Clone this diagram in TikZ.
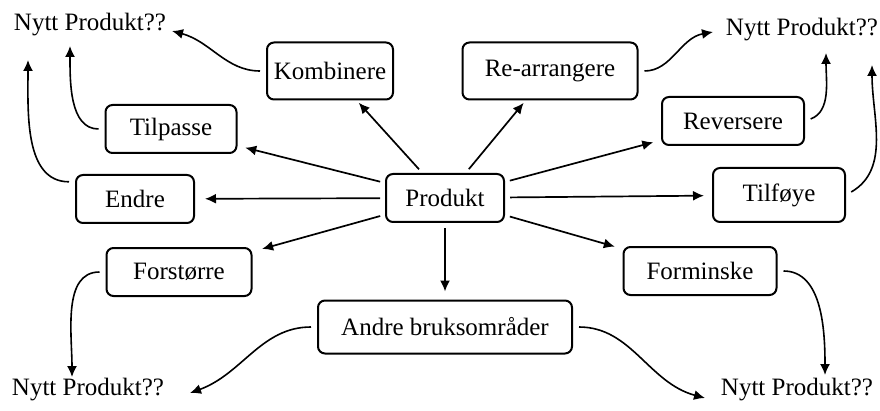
\documentclass[tikz,border=0pt]{standalone}
\usepackage{fontspec}
\setmainfont{Liberation Serif}
\usetikzlibrary{arrows.meta}
\tikzset{
  box/.style={draw, rounded corners=7pt, line width=2pt, minimum height=48pt, inner sep=0pt},
  lab/.style={font=\fontsize{25}{29}\selectfont, inner sep=0pt},
  arr/.style={line width=1.7pt, -{Latex[length=11pt,width=10pt]}, shorten <=5pt},
  curvearr/.style={line width=1.6pt, -{Latex[length=11pt,width=10pt]}, shorten <=6pt},
}

\begin{document}
\begin{tikzpicture}[x=1pt,y=1pt]
  \useasboundingbox (0,0) rectangle (880,410);

  % centre node
  \node[box, lab, minimum width=118pt] (prod) at (445,212) {Produkt};

  % the nine ways
  \node[box, lab, minimum width=126pt, minimum height=57pt] (komb)  at (330,339) {Kombinere};
  \node[box, lab, minimum width=175pt, minimum height=57pt] (rearr) at (550,339) {Re-arrangere};
  \node[box, lab, minimum width=131pt] (tilp)  at (171,281) {Tilpasse};
  \node[box, lab, minimum width=142pt] (rev)   at (733,289) {Reversere};
  \node[box, lab, minimum width=118pt] (endre) at (135,211) {Endre};
  \node[box, lab, minimum width=132pt, minimum height=54pt] (tilf) at (779,215) {Tilføye};
  \node[box, lab, minimum width=145pt] (forst) at (179,138) {Forstørre};
  \node[box, lab, minimum width=153pt] (formi) at (700,139) {Forminske};
  \node[box, lab, minimum width=254pt, minimum height=53pt] (andre) at (445,83) {Andre bruksområder};

  % new products in the corners
  \node[lab] (ntl) at (90,385) {Nytt Produkt??};
  \node[lab] (ntr) at (802,380) {Nytt Produkt??};
  \node[lab] (nbl) at (88,20)  {Nytt Produkt??};
  \node[lab] (nbr) at (797,20) {Nytt Produkt??};

  % arrow tips near the corner texts
  \coordinate (tl1) at (172,379); % from Kombinere
  \coordinate (tl2) at (70,364);  % from Tilpasse
  \coordinate (tl3) at (28,350);  % from Endre
  \coordinate (tr1) at (713,378); % from Re-arrangere
  \coordinate (tr2) at (826,357); % from Reversere
  \coordinate (tr3) at (872,345); % from Tilfoye
  \coordinate (bl1) at (72,33);   % from Forstorre
  \coordinate (bl2) at (190,17);  % from Andre
  \coordinate (br1) at (705,12);  % from Andre
  \coordinate (br2) at (825,35);  % from Forminske

  \draw[arr, shorten >=3pt] (prod) -- (komb);
  \draw[arr, shorten >=3pt] (prod) -- (rearr);
  \draw[arr, shorten >=8pt] (prod) -- (tilp);
  \draw[arr, shorten >=8pt] (prod) -- (rev);
  \draw[arr, shorten >=10pt] (prod) -- (endre);
  \draw[arr, shorten >=8pt] (prod) -- (tilf);
  \draw[arr, shorten >=10pt] (prod) -- (forst);
  \draw[arr, shorten >=8pt] (prod) -- (formi);
  \draw[arr, shorten >=8pt] (prod) -- (andre);

  \draw[curvearr] (komb.west) to[out=180, in=-15] (tl1);
  \draw[curvearr] (tilp.west) to[out=180, in=-90] (tl2);
  \draw[curvearr] (endre.164) to[out=180, in=-90] (tl3);
  \draw[curvearr] (rearr.east) to[out=0, in=190] (tr1);
  \draw[curvearr] (rev.east) to[out=20, in=-90] (tr2);
  \draw[curvearr] (tilf.east) to[out=30, in=-90] (tr3);
  \draw[curvearr] (forst.west) to[out=180, in=90] (bl1);
  \draw[curvearr] (andre.west) to[out=180, in=20] (bl2);
  \draw[curvearr] (andre.east) to[out=0, in=165] (br1);
  \draw[curvearr] (formi.east) to[out=0, in=90] (br2);
\end{tikzpicture}
\end{document}
